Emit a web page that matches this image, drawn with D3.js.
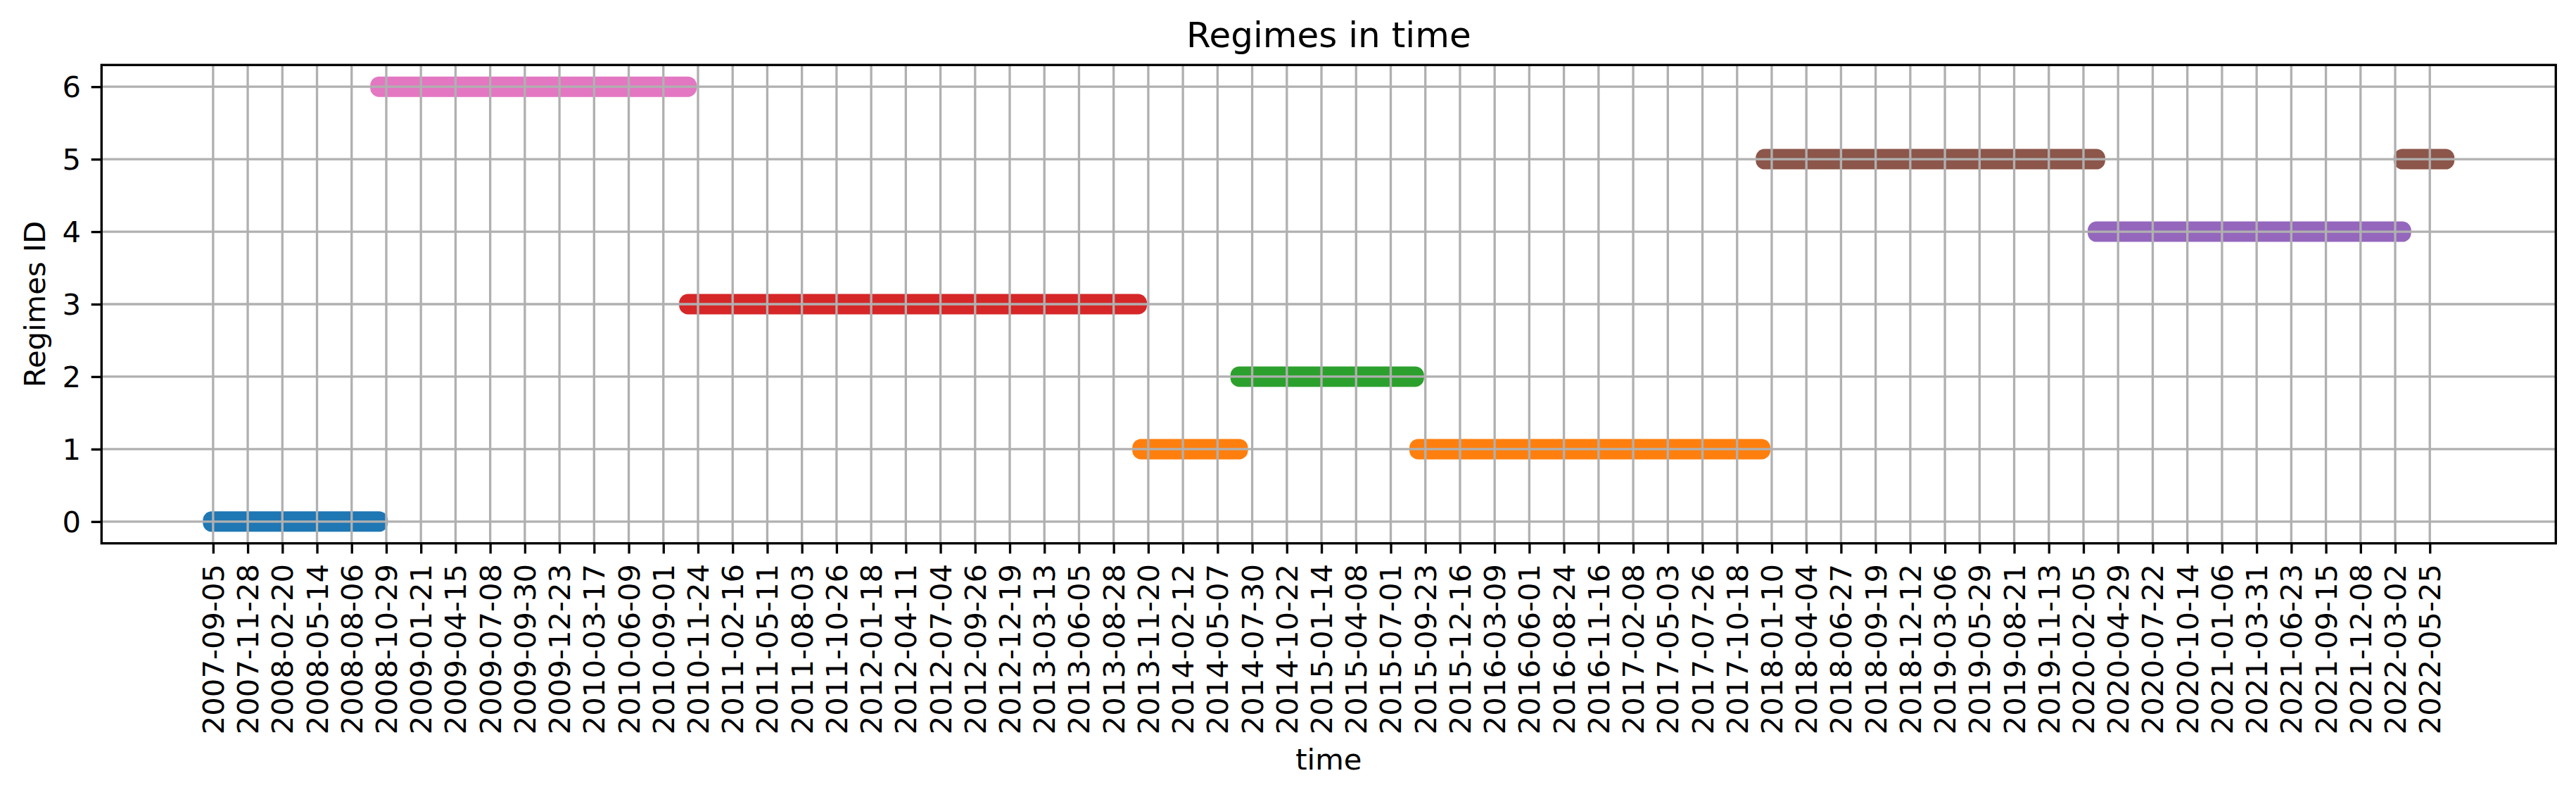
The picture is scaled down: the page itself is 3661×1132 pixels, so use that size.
<!DOCTYPE html>
<html><head><meta charset="utf-8">
<script src="https://cdn.jsdelivr.net/npm/d3@7"></script>
<style>html,body{margin:0;padding:0;background:#fff}svg{display:block}</style>
</head>
<body>
<svg id="chart" width="3661" height="1132"></svg>
<script>
// ---- data (weekly regime runs: first and last observation of each run) ----
const segStart  = ["2007-09-05","2008-10-15","2010-11-03","2013-11-06","2014-07-02","2015-09-09","2017-12-27","2020-03-11","2022-03-23"];
const segEnd    = ["2008-10-08","2010-10-27","2013-10-23","2014-06-25","2015-08-26","2017-12-13","2020-03-04","2022-03-16","2022-06-29"];
const segRegime = [0, 6, 3, 1, 2, 1, 5, 4, 5];

const tickLabels = ["2007-09-05","2007-11-28","2008-02-20","2008-05-14","2008-08-06","2008-10-29",
"2009-01-21","2009-04-15","2009-07-08","2009-09-30","2009-12-23","2010-03-17","2010-06-09","2010-09-01",
"2010-11-24","2011-02-16","2011-05-11","2011-08-03","2011-10-26","2012-01-18","2012-04-11","2012-07-04",
"2012-09-26","2012-12-19","2013-03-13","2013-06-05","2013-08-28","2013-11-20","2014-02-12","2014-05-07",
"2014-07-30","2014-10-22","2015-01-14","2015-04-08","2015-07-01","2015-09-23","2015-12-16","2016-03-09",
"2016-06-01","2016-08-24","2016-11-16","2017-02-08","2017-05-03","2017-07-26","2017-10-18","2018-01-10",
"2018-04-04","2018-06-27","2018-09-19","2018-12-12","2019-03-06","2019-05-29","2019-08-21","2019-11-13",
"2020-02-05","2020-04-29","2020-07-22","2020-10-14","2021-01-06","2021-03-31","2021-06-23","2021-09-15",
"2021-12-08","2022-03-02","2022-05-25"];
const yTicks = [0, 1, 2, 3, 4, 5, 6];
const regimeColors = ["#1f77b4","#ff7f0e","#2ca02c","#d62728","#9467bd","#8c564b","#e377c2"];
const titleText = "Regimes in time";
const xLabelText = "time";
const yLabelText = "Regimes ID";

(function () {
// ---- layout ----
const axL = 144.3, axR = 3632.3, axT = 92.3, axB = 771.7;
const FONT = "'DejaVu Sans', sans-serif";
const tickFs = 41.7, titleFs = 50;
const lw = 3.33, tickLen = 14.6, pad = 14.6;
const barH = 29;

const parse = d3.utcParse("%Y-%m-%d");
const starts = segStart.map(parse), ends = segEnd.map(parse), ticks = tickLabels.map(parse);

const dMin = d3.min(starts), dMax = d3.max(ends);
const span = dMax - dMin, mrg = span * 0.05;
const x = d3.scaleUtc()
  .domain([new Date(+dMin - mrg), new Date(+dMax + mrg)])
  .range([axL, axR]);
const y = d3.scaleLinear().domain([-0.3, 6.3]).range([axB, axT]);

const svg = d3.select("#chart");
svg.append("rect").attr("width", 3661).attr("height", 1132).attr("fill", "#fff");

// bars
const bars = svg.append("g");
segRegime.forEach((r, i) => {
  const x0 = x(starts[i]) - barH / 2, x1 = x(ends[i]) + barH / 2;
  bars.append("rect")
    .attr("x", x0).attr("y", y(r) - barH / 2)
    .attr("width", x1 - x0).attr("height", barH)
    .attr("rx", 12.5).attr("ry", 12.5)
    .attr("fill", regimeColors[r]);
});

// grid (drawn over bars, as in the reference)
const grid = svg.append("g").attr("stroke", "#b0b0b0").attr("stroke-width", lw);
ticks.forEach(t => grid.append("line")
  .attr("x1", x(t)).attr("x2", x(t)).attr("y1", axT).attr("y2", axB));
yTicks.forEach(v => grid.append("line")
  .attr("x1", axL).attr("x2", axR).attr("y1", y(v)).attr("y2", y(v)));

// x axis
const xAxis = d3.axisBottom(x).tickValues(ticks).tickSize(tickLen).tickPadding(pad)
  .tickFormat((d, i) => tickLabels[i]);
const gx = svg.append("g").attr("transform", `translate(0,${axB})`).call(xAxis);
gx.select(".domain").remove();
gx.selectAll(".tick line").attr("stroke", "#000").attr("stroke-width", lw);
gx.selectAll(".tick text")
  .attr("font-family", FONT).attr("font-size", tickFs).attr("fill", "#000")
  .attr("text-anchor", "end").attr("dy", null).attr("y", null)
  .attr("dominant-baseline", "central")
  .attr("transform", `translate(0,${tickLen + pad}) rotate(-90)`);

// y axis
const yAxis = d3.axisLeft(y).tickValues(yTicks).tickSize(tickLen).tickPadding(pad)
  .tickFormat(d3.format("d"));
const gy = svg.append("g").attr("transform", `translate(${axL},0)`).call(yAxis);
gy.select(".domain").remove();
gy.selectAll(".tick line").attr("stroke", "#000").attr("stroke-width", lw);
gy.selectAll(".tick text")
  .attr("font-family", FONT).attr("font-size", tickFs).attr("fill", "#000")
  .attr("dy", null).attr("dominant-baseline", "central");

// spines
svg.append("rect").attr("x", axL).attr("y", axT)
  .attr("width", axR - axL).attr("height", axB - axT)
  .attr("fill", "none").attr("stroke", "#000").attr("stroke-width", lw);

// labels
svg.append("text").attr("x", (axL + axR) / 2).attr("y", 67)
  .attr("text-anchor", "middle").attr("font-family", FONT).attr("font-size", titleFs)
  .text(titleText);
svg.append("text").attr("x", (axL + axR) / 2).attr("y", 1093)
  .attr("text-anchor", "middle").attr("font-family", FONT).attr("font-size", tickFs)
  .text(xLabelText);
svg.append("text").attr("transform", `translate(64,${(axT + axB) / 2}) rotate(-90)`)
  .attr("text-anchor", "middle").attr("font-family", FONT).attr("font-size", tickFs)
  .text(yLabelText);
})();
</script>
</body></html>
